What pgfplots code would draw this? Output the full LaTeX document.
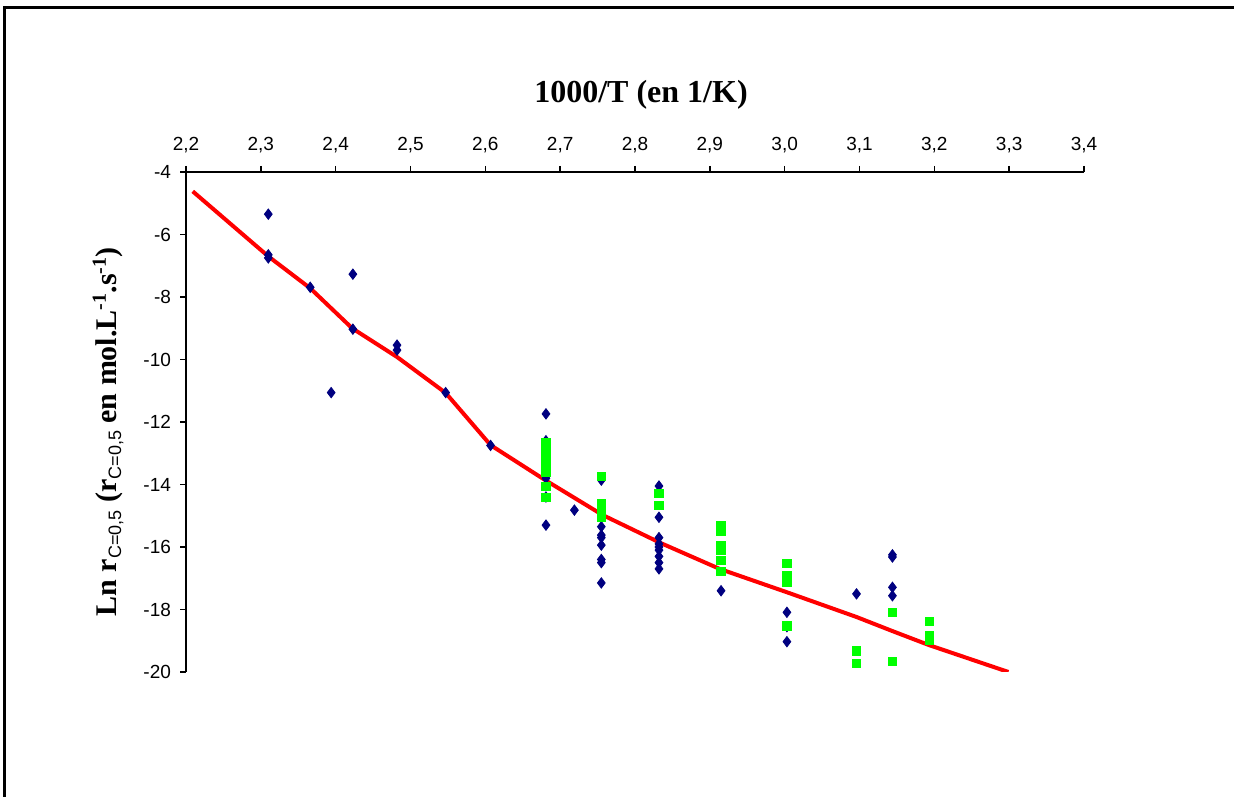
\documentclass[border=0pt]{standalone}
\usepackage{fontspec}
\setmainfont{Liberation Serif}
\setsansfont{Liberation Sans}
\usepackage{pgfplots}
\pgfplotsset{compat=1.18}
\definecolor{navyb}{RGB}{0,0,128}
\definecolor{limeg}{RGB}{0,255,0}
\newcommand{\sub}[1]{\raisebox{-0.35ex}{\fontsize{9}{10}\selectfont\sffamily\mdseries #1}}
\newcommand{\sups}[1]{\raisebox{0.75ex}{\fontsize{10}{11}\selectfont #1}}
\begin{document}
\begin{tikzpicture}
\useasboundingbox (0,0) rectangle (617pt,398pt);
\fill[white] (0,0) rectangle (617pt,398pt);
\draw[line width=1.5pt] (2.25pt,-2pt) -- (2.25pt,394.25pt) -- (620pt,394.25pt);
\begin{axis}[
  at={(93pt,62pt)}, anchor=south west,
  scale only axis, width=449pt, height=250pt,
  xmin=2.2, xmax=3.4, ymin=-20, ymax=-4,
  axis x line*=top, axis y line*=left,
  axis line style={-, line width=0.9pt},
  xtick={2.2,2.3,2.4,2.5,2.6,2.7,2.8,2.9,3.0,3.1,3.2,3.3,3.4},
  xticklabels={{2,2},{2,3},{2,4},{2,5},{2,6},{2,7},{2,8},{2,9},{3,0},{3,1},{3,2},{3,3},{3,4}},
  ytick={-20,-18,-16,-14,-12,-10,-8,-6,-4},
  yticklabels={-20,-18,-16,-14,-12,-10,-8,-6,-4},
  tick align=outside,
  major tick length=3pt,
  tick style={black, line width=0.8pt},
  ticklabel style={font=\sffamily\fontsize{9.5}{11}\selectfont},
  xticklabel shift=3pt,
  yticklabel shift=1pt,
]
% fitted curve
\addplot[red, line width=2pt, no marks] coordinates {
(2.209,-4.62) (2.310,-6.70) (2.366,-7.72) (2.422,-9.00) (2.482,-9.92)
(2.547,-11.07) (2.607,-12.74) (2.680,-13.86) (2.757,-14.98) (2.834,-15.87)
(2.913,-16.70) (3.002,-17.44) (3.096,-18.24) (3.145,-18.70) (3.193,-19.14)
(3.299,-20.00)};
% blue data
\addplot[only marks, mark=diamond*, mark size=2.6pt, color=navyb] coordinates {
(2.310,-5.35) (2.310,-6.65) (2.310,-6.75) (2.366,-7.69) (2.423,-7.27)
(2.423,-9.03) (2.482,-9.54) (2.482,-9.70) (2.394,-11.06) (2.547,-11.06)
(2.607,-12.75)
(2.681,-11.74) (2.681,-15.30) (2.719,-14.82)
(2.681,-12.60) (2.681,-13.20) (2.681,-13.80) (2.681,-14.40)
(2.755,-13.86) (2.755,-15.35) (2.755,-15.62) (2.755,-15.70) (2.755,-15.94)
(2.755,-16.40) (2.755,-16.50) (2.755,-17.15)
(2.832,-14.05) (2.832,-15.05) (2.832,-15.70) (2.832,-15.90) (2.832,-16.00)
(2.832,-16.10) (2.832,-16.30) (2.832,-16.50) (2.832,-16.70)
(2.915,-17.40)
(3.003,-17.00) (3.003,-18.09) (3.003,-18.55) (3.003,-19.03)
(3.096,-17.50) (3.144,-16.25) (3.144,-16.32) (3.144,-17.29) (3.144,-17.56)
};
% green data
\addplot[only marks, mark=square*, mark size=2.1pt, color=limeg] coordinates {
(2.681,-12.67) (2.681,-12.84) (2.681,-13.15) (2.681,-13.36) (2.681,-13.60)
(2.681,-14.07) (2.681,-14.41)
(2.755,-13.75) (2.755,-14.60) (2.755,-14.80) (2.755,-15.05)
(2.832,-14.28) (2.832,-14.66)
(2.915,-15.30) (2.915,-15.50) (2.915,-15.95) (2.915,-16.10) (2.915,-16.42) (2.915,-16.78)
(3.003,-16.52) (3.003,-16.90) (3.003,-17.14) (3.003,-18.52)
(3.096,-19.32) (3.096,-19.72)
(3.144,-18.09) (3.144,-19.67)
(3.193,-18.39) (3.193,-18.82) (3.193,-18.98)
};
\end{axis}
\node[font=\bfseries\fontsize{16}{19}\selectfont] at (320.5pt,350.5pt) {1000/T (en 1/K)};
\node[font=\bfseries\fontsize{15}{18}\selectfont, rotate=90] at (54pt,182pt)
  {Ln r\sub{C=0,5} (r\sub{C=0,5} en mol.L\sups{-1}.s\sups{-1})};
\end{tikzpicture}
\end{document}
